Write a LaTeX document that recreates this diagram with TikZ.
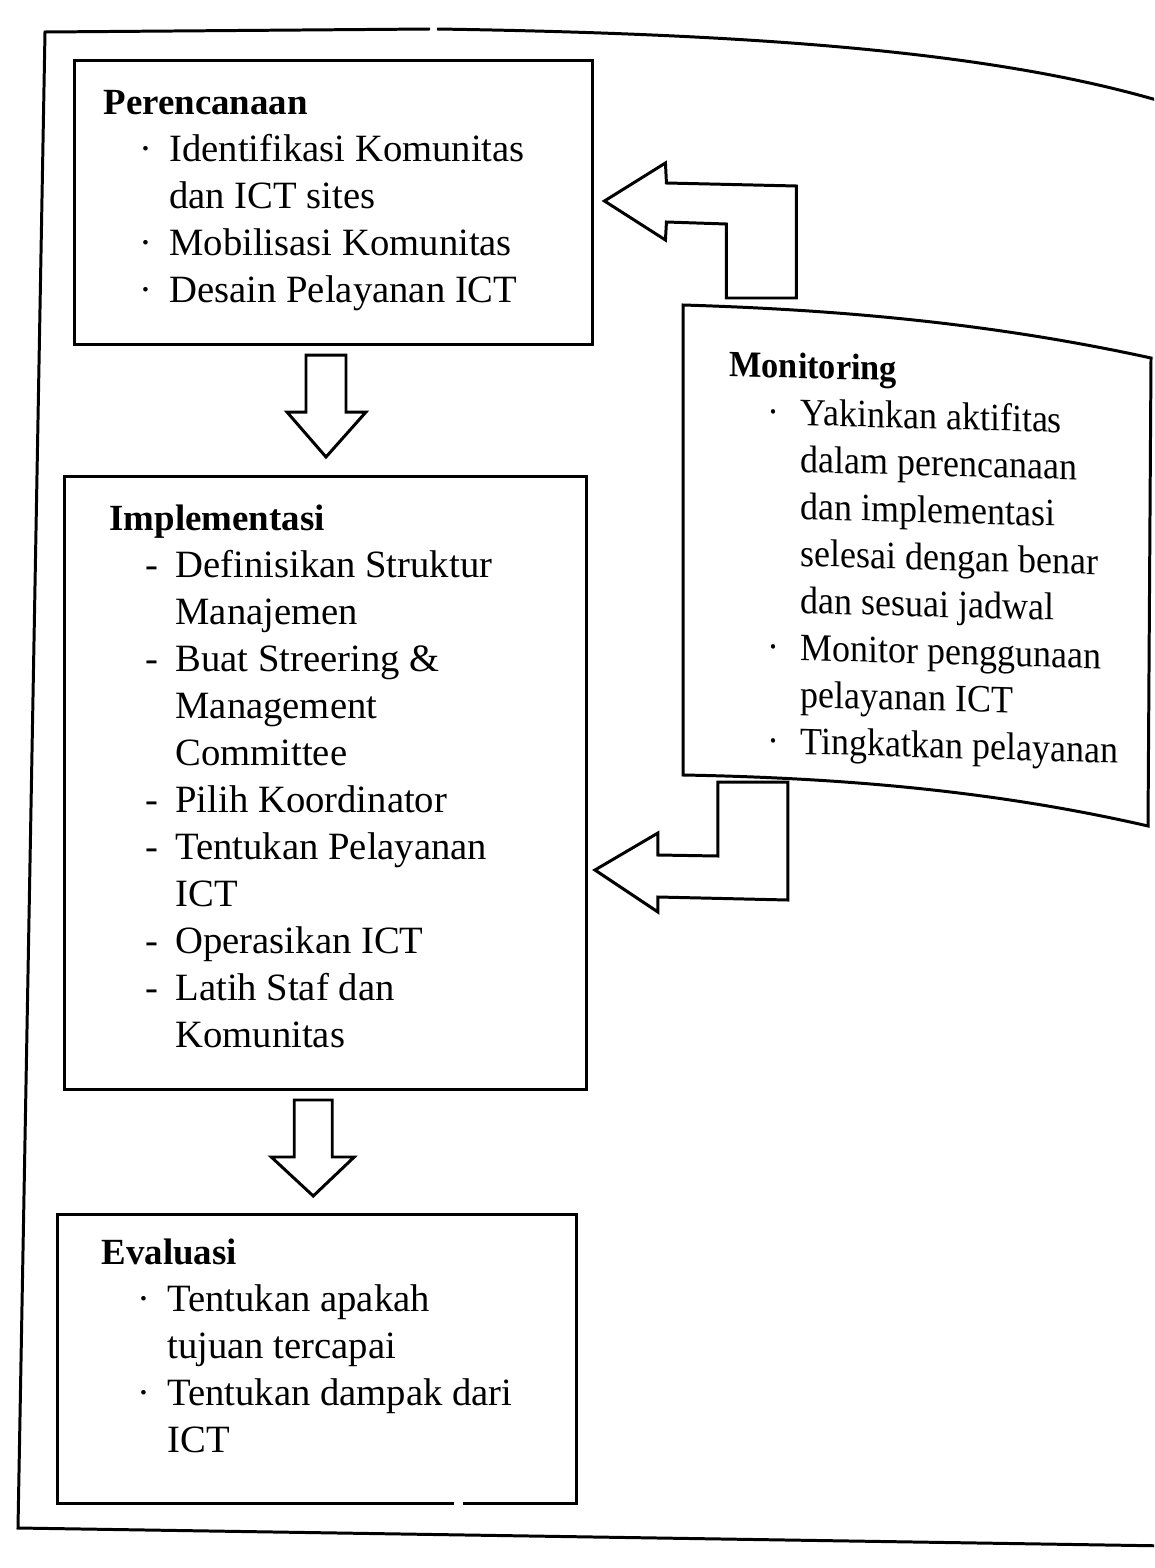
\documentclass[tikz,border=0pt]{standalone}
\usepackage{fontspec}
\setmainfont{Liberation Serif}
\usetikzlibrary{calc}
\newcommand{\pitem}[1]{\hspace*{0.72cm}\makebox[0.6cm][l]{#1}}
\newcommand{\pcont}{\hspace*{1.32cm}}
\newcommand{\mitem}[1]{\hspace*{0.82cm}\makebox[0.72cm][l]{#1}}
\newcommand{\mcont}{\hspace*{1.54cm}}
\newcommand{\ttl}[1]{{\fontsize{21}{26.75}\selectfont\bfseries #1}}
\begin{document}
\begin{tikzpicture}[x=0.02cm, y=-0.02cm, line width=1.7pt, line join=miter,
  box/.style={draw, rectangle, inner sep=0pt, fill=white},
  txt/.style={anchor=north west, inner sep=0pt, align=left,
              font=\fontsize{22}{26.75}\selectfont},
  blk/.style={draw, fill=white}]
\clip (0,0) rectangle (1154,1568);
\fill[white] (0,0) rectangle (1154,1568);

% outer frame
\draw (430,29) -- (45,32) -- (18,1528) -- (1170,1546);
\draw (437,29) .. controls (760,34) and (1000,52) .. (1170,104);

% boxes
\node[box, minimum width=10.38cm, minimum height=5.7cm] (plan) at (333.5,202.5) {};
\node[box, minimum width=10.46cm, minimum height=12.28cm] (impl) at (325.5,783) {};
\node[box, minimum width=10.4cm, minimum height=5.8cm] (eval) at (317,1359) {};
\fill[white] (454,1494) rectangle (463,1514);

% monitoring box (curved sheet)
\coordinate (monNW) at (683,305);
\coordinate (monNE) at (1151,358);
\coordinate (monSE) at (1148,826);
\coordinate (monSW) at (683,775);

% elbow arrow: monitoring -> implementasi
\begin{scope}[shift={($(impl.east)+(6.5,87)$)}]
\draw[blk] (0,0) -- (63,-37) -- (63,-15) -- (123,-14) -- (123,-88) -- (193,-88)
  -- (193,30) -- (63,27) -- (63,42) -- cycle;
\end{scope}

\draw[fill=white] (monNW) .. controls (850,310) and (1000,325) .. (monNE)
  -- (monSE) .. controls (1000,792) and (850,778) .. (monSW) -- cycle;

% elbow arrow: monitoring -> perencanaan
\begin{scope}[shift={($(plan.east)+(10,-1.5)$)}]
\draw[blk] (0,0) -- (61,-38) -- (62,-18) -- (192,-15) -- (192,97) -- (122,97)
  -- (122,23) -- (62,21) -- (61,39) -- cycle;
\end{scope}

% down arrows
\begin{scope}[shift={($(plan.south)!0.5!(impl.north)+(-3.5,-4.5)$)}]
\draw[blk] (-20,-51) -- (20,-51) -- (20,6) -- (40,6) -- (0,51) -- (-39,6) -- (-20,6) -- cycle;
\end{scope}
\begin{scope}[shift={($(impl.south)!0.5!(eval.north)+(-8,-4)$)}]
\draw[blk] (-19,-48) -- (19,-48) -- (19,9) -- (41,9) -- (0,48) -- (-42,9) -- (-19,9) -- cycle;
\end{scope}

% texts
\node[txt] (plantext) at (102,89) {\ttl{Perencanaan}\\
\pitem{·}Identifikasi Komunitas\\
\pcont dan ICT sites\\
\pitem{·}Mobilisasi Komunitas\\
\pitem{·}Desain Pelayanan ICT};

\node[txt] (impltext) at (108,503) {\ttl{Implementasi}\\
\pitem{-}Definisikan Struktur\\
\pcont Manajemen\\
\pitem{-}Buat Streering \&\\
\pcont Management\\
\pcont Committee\\
\pitem{-}Pilih Koordinator\\
\pitem{-}Tentukan Pelayanan\\
\pcont ICT\\
\pitem{-}Operasikan ICT\\
\pitem{-}Latih Staf dan\\
\pcont Komunitas};

\node[txt] (evaltext) at (100,1237) {\ttl{Evaluasi}\\
\pitem{·}Tentukan apakah\\
\pcont tujuan tercapai\\
\pitem{·}Tentukan dampak dari\\
\pcont ICT};

\begin{scope}[shift={(728,349)}]
\node[txt, yslant=-0.028, xscale=0.93, transform shape] (montext) at (0,0) {\ttl{Monitoring}\\
\mitem{·}Yakinkan aktifitas\\
\mcont dalam perencanaan\\
\mcont dan implementasi\\
\mcont selesai dengan benar\\
\mcont dan sesuai jadwal\\
\mitem{·}Monitor penggunaan\\
\mcont pelayanan ICT\\
\mitem{·}Tingkatkan pelayanan};
\end{scope}
\end{tikzpicture}
\end{document}
